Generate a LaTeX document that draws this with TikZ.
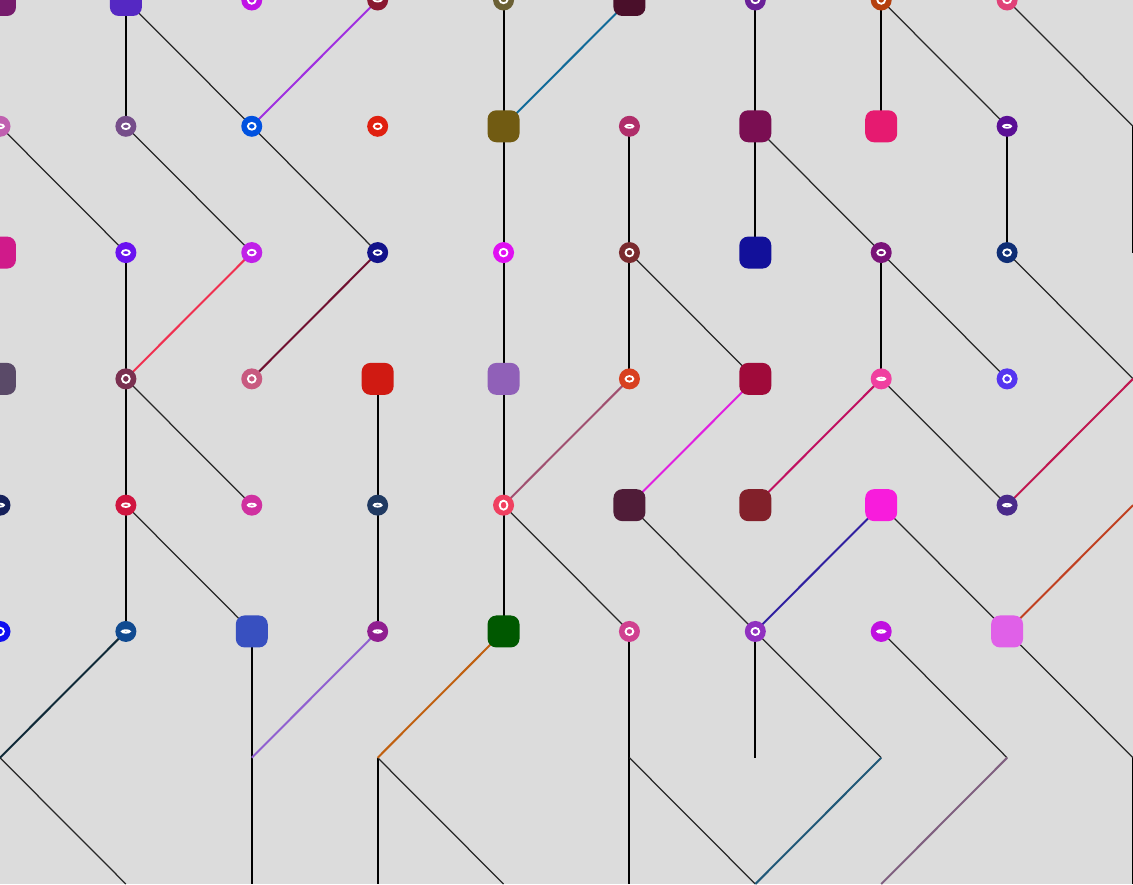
\documentclass[tikz,border=0pt]{standalone}
\pgfdeclarelayer{edges}
\pgfsetlayers{edges,main}
\begin{document}
\begin{tikzpicture}[x=1cm,y=-1.0032cm,
  dot/.style 2 args={/utils/exec={\definecolor{nc}{HTML}{#1}}, circle, fill=nc, draw=none, minimum size=0.167cm, inner sep=0pt,
    path picture={\draw[white,line width=0.42pt] (path picture bounding box.center) ellipse [x radius=0.031cm, y radius=#2cm];}},
  sq/.style={/utils/exec={\definecolor{nc}{HTML}{#1}}, rectangle, rounded corners=0.07cm, fill=nc, draw=none, minimum size=0.254cm, inner sep=0pt},
  vl/.style={draw=black, line width=0.45pt},
  dl/.style={draw=black!85, line width=0.28pt},
  cl/.style={/utils/exec={\definecolor{ec}{HTML}{#1}}, draw=ec, line width=0.45pt},
]
\useasboundingbox (0,0) rectangle (9,7);
% row 0
\node[sq=761C6C] (c0r0) at (0,0) {};
\node[sq=5528C3] (c1r0) at (1,0) {};
\node[dot={C012E6}{0.03}] (c2r0) at (2,0) {};
\node[dot={8A1830}{0.012}] (c3r0) at (3,0) {};
\node[dot={6B6035}{0.025}] (c4r0) at (4,0) {};
\node[sq=4A0F2A] (c5r0) at (5,0) {};
\node[dot={6A2198}{0.025}] (c6r0) at (6,0) {};
\node[dot={B5400E}{0.03}] (c7r0) at (7,0) {};
\node[dot={E04278}{0.025}] (c8r0) at (8,0) {};
% row 1
\node[dot={C060B0}{0.015}] (c0r1) at (0,1) {};
\node[dot={764E8A}{0.022}] (c1r1) at (1,1) {};
\node[dot={0052E0}{0.027}] (c2r1) at (2,1) {};
\node[dot={E02010}{0.022}] (c3r1) at (3,1) {};
\node[sq=715B12] (c4r1) at (4,1) {};
\node[dot={B02E6A}{0.012}] (c5r1) at (5,1) {};
\node[sq=7A0E52] (c6r1) at (6,1) {};
\node[sq=E61A70] (c7r1) at (7,1) {};
\node[dot={5A0E95}{0.012}] (c8r1) at (8,1) {};
% row 2
\node[sq=D01A8A] (c0r2) at (0,2) {};
\node[dot={6A12F0}{0.02}] (c1r2) at (1,2) {};
\node[dot={C020E8}{0.022}] (c2r2) at (2,2) {};
\node[dot={12128A}{0.018}] (c3r2) at (3,2) {};
\node[dot={E010F2}{0.03}] (c4r2) at (4,2) {};
\node[dot={7A2A2E}{0.03}] (c5r2) at (5,2) {};
\node[sq=12109A] (c6r2) at (6,2) {};
\node[dot={7A1278}{0.022}] (c7r2) at (7,2) {};
\node[dot={0F2E75}{0.026}] (c8r2) at (8,2) {};
% row 3
\node[sq=5A4A68] (c0r3) at (0,3) {};
\node[dot={7A3050}{0.032}] (c1r3) at (1,3) {};
\node[dot={C85A80}{0.03}] (c2r3) at (2,3) {};
\node[sq=D01A12] (c3r3) at (3,3) {};
\node[sq=9060B8] (c4r3) at (4,3) {};
\node[dot={D84020}{0.022}] (c5r3) at (5,3) {};
\node[sq=A00A3A] (c6r3) at (6,3) {};
\node[dot={F040A0}{0.01}] (c7r3) at (7,3) {};
\node[dot={5535F0}{0.03}] (c8r3) at (8,3) {};
% row 4
\node[dot={15205A}{0.012}] (c0r4) at (0,4) {};
\node[dot={D01540}{0.014}] (c1r4) at (1,4) {};
\node[dot={D030A0}{0.012}] (c2r4) at (2,4) {};
\node[dot={203A62}{0.012}] (c3r4) at (3,4) {};
\node[dot={F04060}{0.036}] (c4r4) at (4,4) {};
\node[sq=501C38] (c5r4) at (5,4) {};
\node[sq=82202A] (c6r4) at (6,4) {};
\node[sq=F81CDC] (c7r4) at (7,4) {};
\node[dot={4A2A8A}{0.01}] (c8r4) at (8,4) {};
% row 5
\node[dot={1010F0}{0.03}] (c0r5) at (0,5) {};
\node[dot={104A90}{0.01}] (c1r5) at (1,5) {};
\node[sq=3850C0] (c2r5) at (2,5) {};
\node[dot={901E90}{0.01}] (c3r5) at (3,5) {};
\node[sq=005800] (c4r5) at (4,5) {};
\node[dot={D04090}{0.028}] (c5r5) at (5,5) {};
\node[dot={9030C0}{0.028}] (c6r5) at (6,5) {};
\node[dot={C010E0}{0.01}] (c7r5) at (7,5) {};
\node[sq=E060E8] (c8r5) at (8,5) {};
% junctions
\coordinate (c9r1) at (9,1);
\coordinate (c9r2) at (9,2);
\coordinate (c9r3) at (9,3);
\coordinate (c9r4) at (9,4);
\coordinate (c0r6) at (0,6);
\coordinate (c2r6) at (2,6);
\coordinate (c3r6) at (3,6);
\coordinate (c5r6) at (5,6);
\coordinate (c6r6) at (6,6);
\coordinate (c7r6) at (7,6);
\coordinate (c8r6) at (8,6);
\coordinate (c9r6) at (9,6);
\coordinate (c1r7) at (1,7);
\coordinate (c2r7) at (2,7);
\coordinate (c3r7) at (3,7);
\coordinate (c4r7) at (4,7);
\coordinate (c5r7) at (5,7);
\coordinate (c6r7) at (6,7);
\coordinate (c7r7) at (7,7);
\coordinate (c9r7) at (9,7);
\begin{pgfonlayer}{edges}
\fill[color={rgb,255:red,220;green,220;blue,220}] (0,0) rectangle (9,7);
% vertical
\foreach \a/\b in {c1r0/c1r1,c4r0/c4r1,c6r0/c6r1,c7r0/c7r1,c9r1/c9r2,
  c4r1/c4r2,c5r1/c5r2,c6r1/c6r2,c8r1/c8r2,
  c1r2/c1r3,c4r2/c4r3,c5r2/c5r3,c7r2/c7r3,
  c1r3/c1r4,c3r3/c3r4,c4r3/c4r4,
  c1r4/c1r5,c3r4/c3r5,c4r4/c4r5,
  c2r5/c2r6,c2r6/c2r7,c5r5/c5r6,c5r6/c5r7,c6r5/c6r6,
  c3r6/c3r7,c9r6/c9r7}
  \draw[vl] (\a.center) -- (\b.center);
% thin diagonals
\foreach \a/\b in {c1r0/c2r1,c7r0/c8r1,c8r0/c9r1,
  c0r1/c1r2,c1r1/c2r2,c2r1/c3r2,c6r1/c7r2,
  c5r2/c6r3,c7r2/c8r3,c8r2/c9r3,
  c1r3/c2r4,c7r3/c8r4,
  c1r4/c2r5,c4r4/c5r5,c5r4/c6r5,c7r4/c8r5,
  c6r5/c7r6,c7r5/c8r6,c8r5/c9r6,
  c0r6/c1r7,c3r6/c4r7,c5r6/c6r7}
  \draw[dl] (\a.center) -- (\b.center);
% coloured diagonals
\draw[cl=A030E0] (c3r0.center) -- (c2r1.center);
\draw[cl=106A98] (c5r0.center) -- (c4r1.center);
\draw[cl=F03050] (c2r2.center) -- (c1r3.center);
\draw[cl=701030] (c3r2.center) -- (c2r3.center);
\draw[cl=A05070] (c5r3.center) -- (c4r4.center);
\draw[cl=E020E0] (c6r3.center) -- (c5r4.center);
\draw[cl=C01060] (c7r3.center) -- (c6r4.center);
\draw[cl=C01850] (c9r3.center) -- (c8r4.center);
\draw[cl=3020A0] (c7r4.center) -- (c6r5.center);
\draw[cl=C04020] (c9r4.center) -- (c8r5.center);
\draw[cl=102A38] (c1r5.center) -- (c0r6.center);
\draw[cl=9060D0] (c3r5.center) -- (c2r6.center);
\draw[cl=C06010] (c4r5.center) -- (c3r6.center);
\draw[cl=205878] (c7r6.center) -- (c6r7.center);
\draw[cl=806080] (c8r6.center) -- (c7r7.center);
\end{pgfonlayer}
\end{tikzpicture}
\end{document}
